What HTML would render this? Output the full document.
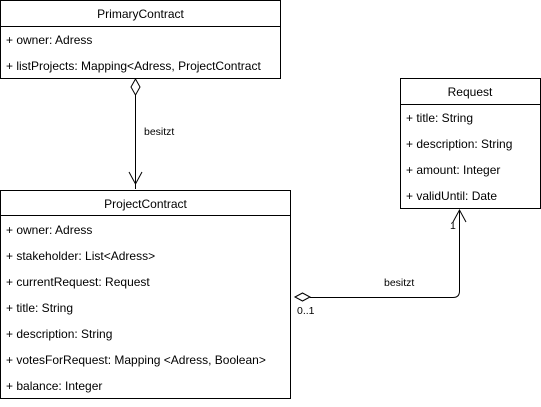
<!DOCTYPE html>
<html><head><style>
body{margin:0;background:#fff;width:541px;height:402px;overflow:hidden}
svg text{font-family:"Liberation Sans",Arial,sans-serif;font-size:12px;fill:#000}
</style></head><body>
<svg width="541" height="402" xmlns="http://www.w3.org/2000/svg">
<g fill="#fff" stroke="#000" stroke-width="1">
<rect x="0.5" y="0.5" width="280" height="78"/>
<line x1="0.5" y1="26.5" x2="280.5" y2="26.5"/>
<rect x="0.5" y="190.5" width="290" height="208"/>
<line x1="0.5" y1="215.5" x2="290.5" y2="215.5"/>
<rect x="400.5" y="78.5" width="140" height="130"/>
<line x1="400.5" y1="104.5" x2="540.5" y2="104.5"/>
</g>
<text x="140.5" y="18" text-anchor="middle">PrimaryContract</text>
<text x="145.5" y="208" text-anchor="middle">ProjectContract</text>
<text x="470" y="96" text-anchor="middle">Request</text>
<text x="6" y="44">+ owner: Adress</text>
<text x="6" y="70">+ listProjects: Mapping&lt;Adress, ProjectContract</text>
<text x="6" y="234">+ owner: Adress</text>
<text x="6" y="260">+ stakeholder: List&lt;Adress&gt;</text>
<text x="6" y="286">+ currentRequest: Request</text>
<text x="6" y="312">+ title: String</text>
<text x="6" y="338">+ description: String</text>
<text x="6" y="364">+ votesForRequest: Mapping &lt;Adress, Boolean&gt;</text>
<text x="6" y="390">+ balance: Integer</text>
<text x="406" y="122">+ title: String</text>
<text x="406" y="148">+ description: String</text>
<text x="406" y="174">+ amount: Integer</text>
<text x="406" y="200">+ validUntil: Date</text>
<g fill="none" stroke="#000" stroke-width="1">
<path d="M135.5 79 L140 87 L135.5 95 L131 87 Z" fill="#fff"/>
<line x1="135.5" y1="95" x2="135.5" y2="189"/>
<path d="M129 172 L135.5 184 L142 172"/>
<path d="M295 297 L302.5 293 L310 297 L302.5 301 Z" fill="#fff"/>
<path d="M310 297.5 H453 Q459.5 297.5 459.5 291 V210"/>
<path d="M453 222 L459.5 210 L466 222"/>
</g>
<text x="144" y="135" style="font-size:10.5px">besitzt</text>
<text x="384" y="286" style="font-size:10.5px">besitzt</text>
<text x="450" y="229" style="font-size:10.5px">1</text>
<text x="297" y="314" style="font-size:10.5px">0..1</text>
</svg>
</body></html>
